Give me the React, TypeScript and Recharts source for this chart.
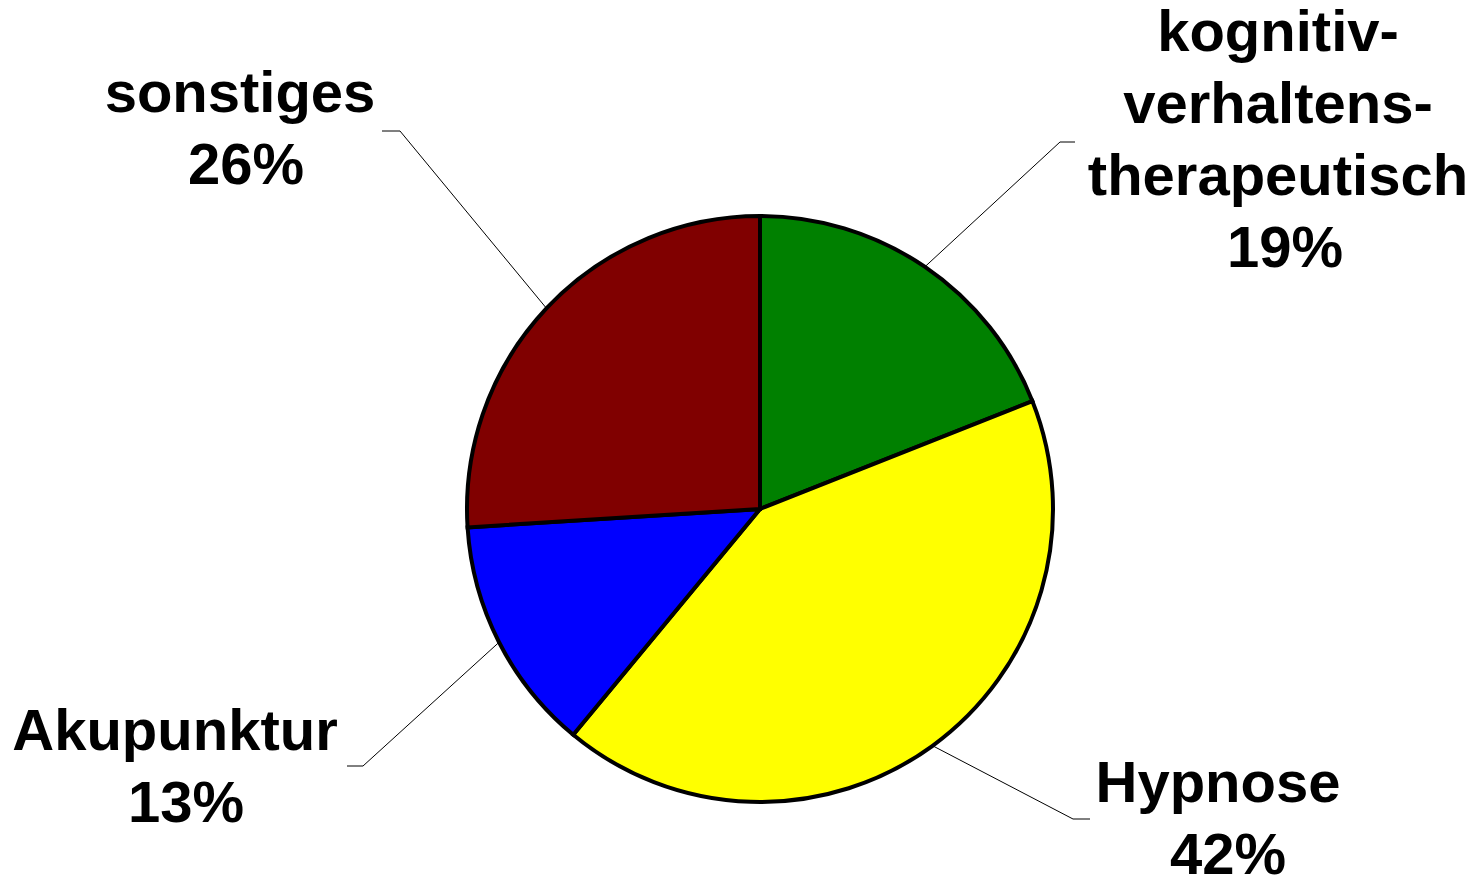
import React from 'react';
import { PieChart, Pie, Cell } from 'recharts';

const categories = ['kognitiv-verhaltens-therapeutisch', 'Hypnose', 'Akupunktur', 'sonstiges'];
const labelTextLines = [['kognitiv-', 'verhaltens-', 'therapeutisch'], ['Hypnose'], ['Akupunktur'], ['sonstiges']];
const values = [19, 42, 13, 26];
const colors = ['#008000', '#FFFF00', '#0000FF', '#800000'];

// label layout relative to the pie centre (styling only)
const labelLayout = [
  { elbow: [300, -367], tail: 15, text: [518, -458], pctShift: 7 },
  { elbow: [313, 310], tail: 17, text: [458, 293], pctShift: 10 },
  { elbow: [-397, 257], tail: -16, text: [-585, 241], pctShift: 11 },
  { elbow: [-360, -378], tail: -18, text: [-520, -397], pctShift: 6 },
];

const data = categories.map((name, i) => ({ name, value: values[i] }));

const RADIAN = Math.PI / 180;
const LINE_H = 72;
const FONT = "'Liberation Sans', Arial, Helvetica, sans-serif";

const renderLabel = (props: any) => {
  const { cx, cy, midAngle, outerRadius, index, value } = props;
  const lay = labelLayout[index];
  const sx = cx + (outerRadius - 1) * Math.cos(-midAngle * RADIAN);
  const sy = cy + (outerRadius - 1) * Math.sin(-midAngle * RADIAN);
  const ex = cx + lay.elbow[0];
  const ey = cy + lay.elbow[1];
  const tx = cx + lay.text[0];
  const ty = cy + lay.text[1];
  const names = labelTextLines[index];
  const lines = [...names, `${value}%`];
  return (
    <g key={`lbl-${index}`}>
      <polyline
        points={`${sx},${sy} ${ex},${ey} ${ex + lay.tail},${ey}`}
        fill="none"
        stroke="#000"
        strokeWidth={1}
      />
      <text
        x={tx}
        y={ty}
        textAnchor="middle"
        fontFamily={FONT}
        fontWeight="bold"
        fontSize={58}
        fill="#000"
      >
        {lines.map((l, k) => (
          <tspan
            key={k}
            x={tx + (k === names.length ? lay.pctShift : 0)}
            y={ty + k * LINE_H}
          >
            {l}
          </tspan>
        ))}
      </text>
    </g>
  );
};

export default function App() {
  return (
    <div style={{ width: 1482, height: 877, background: '#fff' }}>
      <style>{'body{margin:0;background:#fff;}'}</style>
      <PieChart width={1482} height={877} margin={{ top: 0, right: 0, bottom: 0, left: 0 }}>
        <Pie
          data={data}
          dataKey="value"
          nameKey="name"
          cx={760}
          cy={509}
          outerRadius={293}
          startAngle={90}
          endAngle={-270}
          stroke="#000"
          strokeWidth={4}
          label={renderLabel}
          labelLine={false}
          isAnimationActive={false}
        >
          {data.map((d, i) => (
            <Cell key={d.name} fill={colors[i]} stroke="#000" strokeWidth={4} />
          ))}
        </Pie>
      </PieChart>
    </div>
  );
}
